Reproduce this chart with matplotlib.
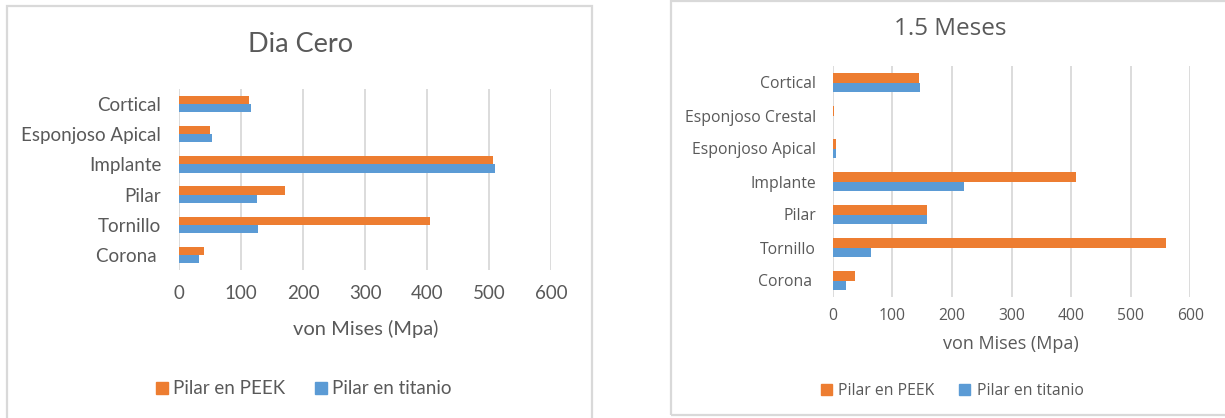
import matplotlib
matplotlib.use("Agg")
import matplotlib.pyplot as plt
from matplotlib.patches import Rectangle, Patch
import numpy as np

# --- data -------------------------------------------------------------
series_names = ["Pilar en PEEK", "Pilar en titanio"]

dia_cero_labels = ["Corona ", "Tornillo", "Pilar", "Implante",
                   "Esponjoso Apical", "Cortical"]
dia_cero_peek = [40, 404, 171, 506, 49, 112]
dia_cero_titanio = [32, 127, 126, 509, 53, 116]

meses_labels = ["Corona ", "Tornillo", "Pilar", "Implante",
                "Esponjoso Apical", "Esponjoso Crestal", "Cortical"]
meses_peek = [37, 560, 158, 409, 5, 2, 144]
meses_titanio = [22, 65, 158, 220, 5, 0.5, 147]

x_ticks = [0, 100, 200, 300, 400, 500, 600]

# --- style ------------------------------------------------------------
W, H = 1225, 418
ORANGE = "#ED7D31"
BLUE = "#5B9BD5"
TEXT = "#595959"
GRID = "#D9D9D9"

fig = plt.figure(figsize=(W / 100, H / 100), dpi=100)
fig.patch.set_facecolor("white")


def px_rect(x0, y0, x1, y1):
    """Figure-fraction rectangle from pixel box (top-left origin)."""
    return [x0 / W, 1 - y1 / H, (x1 - x0) / W, (y1 - y0) / H]


def fx(x):
    return x / W


def fy(y):
    return 1 - y / H


# panel frames
fig.patches.append(Rectangle((fx(7), fy(430)), fx(592) - fx(7), fy(6) - fy(430),
                             transform=fig.transFigure, fill=False,
                             edgecolor=GRID, linewidth=1.6))
fig.patches.append(Rectangle((fx(671), fy(415)), fx(1240) - fx(671), fy(1) - fy(415),
                             transform=fig.transFigure, fill=False,
                             edgecolor=GRID, linewidth=1.6))


def bar_panel(rect, labels, peek, tita, bar_h, font, fs, ypad, xpad):
    ax = fig.add_axes(rect)
    n = len(labels)
    y = np.arange(n)
    ax.barh(y + bar_h / 2, peek, height=bar_h, color=ORANGE, zorder=3)
    ax.barh(y - bar_h / 2, tita, height=bar_h, color=BLUE, zorder=3)
    ax.set_xlim(0, 600)
    ax.set_ylim(-0.5, n - 0.5)
    ax.set_xticks(x_ticks)
    ax.set_xticklabels([str(t) for t in x_ticks], fontfamily=font,
                       fontsize=fs, color=TEXT)
    ax.set_yticks(y)
    ax.set_yticklabels(labels, fontfamily=font, fontsize=fs, color=TEXT)
    ax.tick_params(axis="both", length=0)
    ax.tick_params(axis="y", pad=ypad)
    ax.tick_params(axis="x", pad=xpad)
    ax.grid(axis="x", color=GRID, linewidth=1.3, zorder=0)
    for s in ax.spines.values():
        s.set_visible(False)
    ax.set_facecolor("none")
    return ax


# left chart: Dia Cero
bar_panel(px_rect(179.3, 89, 551.3, 270), dia_cero_labels, dia_cero_peek,
          dia_cero_titanio, 0.27, "Lato", 13.5, 13, 11)
fig.text(fx(301), fy(45), "Dia Cero", ha="center", va="center",
         fontfamily="Lato", fontsize=19.5, color=TEXT)
fig.text(fx(366), fy(329), "von Mises (Mpa)", ha="center", va="center",
         fontfamily="Lato", fontsize=14.5, color=TEXT)

# right chart: 1.5 Meses
bar_panel(px_rect(832.7, 66, 1190.3, 297), meses_labels, meses_peek,
          meses_titanio, 0.28, "Open Sans", 11.3, 12, 8)
fig.text(fx(950), fy(29), "1.5 Meses", ha="center", va="center",
         fontfamily="Open Sans", fontsize=17.5, color=TEXT)
fig.text(fx(1011), fy(344), "von Mises (Mpa)", ha="center", va="center",
         fontfamily="Open Sans", fontsize=13, color=TEXT)

handles = [Patch(color=ORANGE, label=series_names[0]),
           Patch(color=BLUE, label=series_names[1])]

fig.legend(handles=handles, loc="center", bbox_to_anchor=(fx(304), fy(389)),
           ncol=2, frameon=False, handlelength=0.6, handleheight=0.6,
           handletextpad=0.3, columnspacing=1.6,
           prop={"family": "Lato", "size": 13.5}, labelcolor=TEXT)
fig.legend(handles=handles, loc="center", bbox_to_anchor=(fx(952), fy(391)),
           ncol=2, frameon=False, handlelength=0.7, handleheight=0.7,
           handletextpad=0.4, columnspacing=1.6,
           prop={"family": "Open Sans", "size": 11.3}, labelcolor=TEXT)

fig.savefig("out.png", dpi=100, facecolor="white")
